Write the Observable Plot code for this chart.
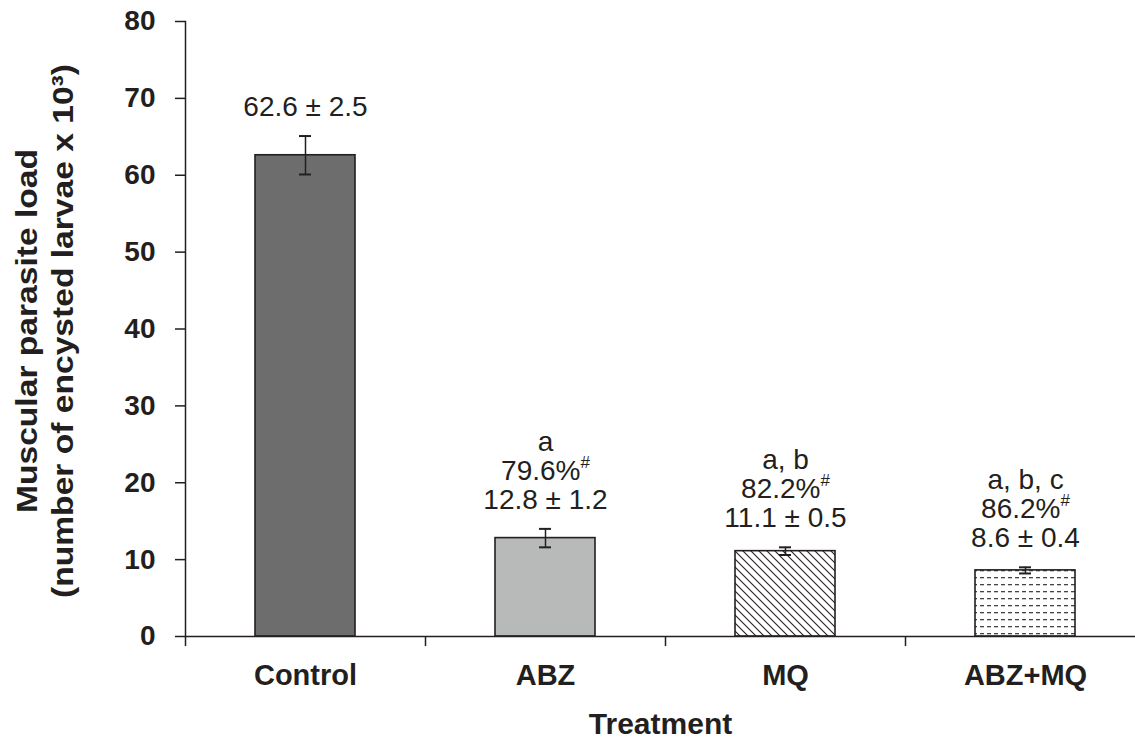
<!DOCTYPE html>
<html><head><meta charset="utf-8">
<script src="https://cdn.jsdelivr.net/npm/d3@7"></script>
<script src="https://cdn.jsdelivr.net/npm/@observablehq/plot@0.6"></script>
<style>body{margin:0;background:#fff;} svg{display:block;font-family:"Liberation Sans",Arial,sans-serif;}</style>
</head><body><div id="chart"></div>
<script>
const categories = ["Control", "ABZ", "MQ", "ABZ+MQ"];
const means = [62.6, 12.8, 11.1, 8.6];
const errors = [2.5, 1.2, 0.5, 0.4];
const letters = ["", "a", "a, b", "a, b, c"];
const reductions = ["", "79.6%#", "82.2%#", "86.2%#"];
const yTicks = [0, 10, 20, 30, 40, 50, 60, 70, 80];
const yTitle = "Muscular parasite load\n(number of encysted larvae x 10³)";
const xTitle = "Treatment";

const data = categories.map((c, i) => ({
  cat: c, mean: means[i], err: errors[i],
  label: [letters[i], reductions[i], `${means[i].toFixed(1)} ± ${errors[i].toFixed(1)}`].filter(s => s).join("\n")
}));

const ink = "#231f20";
const W = 1135, H = 742, ML = 185, MR = -10, MT = 21, MB = 106;
const half = (W - MR - ML) / categories.length / 2;

const chart = Plot.plot({
  width: W, height: H,
  marginLeft: ML, marginRight: MR, marginTop: MT, marginBottom: MB,
  style: {fontFamily: "Liberation Sans, Arial, sans-serif", color: ink},
  x: {domain: categories, padding: 0, axis: null},
  y: {domain: [0, 80], axis: null},
  color: {domain: categories, range: ["#6d6d6d", "#b8bab9", "url(#diag)", "url(#dash)"]},
  marks: [
    Plot.barY(data, {x: "cat", y: "mean", fill: "cat", stroke: ink, strokeWidth: 1.6, insetLeft: 70, insetRight: 70}),
    Plot.ruleX(data, {x: "cat", y1: d => d.mean - d.err, y2: d => d.mean + d.err, stroke: ink, strokeWidth: 1.5}),
    Plot.tickY(data, {x: "cat", y: d => d.mean - d.err, stroke: ink, strokeWidth: 2, insetLeft: half - 6, insetRight: half - 6}),
    Plot.tickY(data, {x: "cat", y: d => d.mean + d.err, stroke: ink, strokeWidth: 2, insetLeft: half - 6, insetRight: half - 6}),
    Plot.text(data, {x: "cat", y: d => d.mean + d.err, text: "label", lineAnchor: "bottom", dy: -20, fontSize: 28, lineHeight: 1.04, fill: ink}),
    Plot.ruleY([0], {stroke: ink, strokeWidth: 1.5}),
    Plot.frame({anchor: "left", stroke: ink, strokeWidth: 1.5}),
    Plot.ruleX(categories, {x: d => d, dx: -half, y1: 0, y2: 0, insetBottom: -10, stroke: ink, strokeWidth: 1.5}),
    Plot.axisY({ticks: yTicks, tickSize: 10, tickPadding: 20, fontSize: 28, fontWeight: "bold", tickFormat: d => d, stroke: ink, strokeWidth: 1.5, label: null}),
    Plot.axisX({tickSize: 0, tickPadding: 28, fontSize: 29, fontWeight: "bold", label: null}),
    Plot.text([yTitle], {frameAnchor: "left", textAnchor: "middle", rotate: -90, dx: -142, dy: 2, fontSize: 30, fontWeight: "bold", lineHeight: 1.2, fill: ink, className: "ytitle"}),
    Plot.text([xTitle], {frameAnchor: "bottom", textAnchor: "middle", dx: -5, dy: 97, fontSize: 30, fontWeight: "bold", fill: ink})
  ]
});

// patterns
const ns = "http://www.w3.org/2000/svg";
const defs = document.createElementNS(ns, "defs");
defs.innerHTML = `
<pattern id="diag" patternUnits="userSpaceOnUse" width="8" height="8">
  <rect width="8" height="8" fill="#fff"/>
  <path d="M-2,-2 L10,10 M-2,6 L2,10 M6,-2 L10,2" stroke="${ink}" stroke-width="1.1"/>
</pattern>
<pattern id="dash" patternUnits="userSpaceOnUse" width="7" height="7">
  <rect width="7" height="7" fill="#fff"/>
  <rect x="0" y="3" width="4" height="1.3" fill="#444"/>
</pattern>`;
chart.insertBefore(defs, chart.firstChild);

// the reference's axis title is stretched along its length
chart.querySelectorAll("g.ytitle text").forEach(t => {
  t.setAttribute("transform", (t.getAttribute("transform") || "") + " scale(1.12,1)");
});

// superscript '#'
chart.querySelectorAll("text tspan, text").forEach(t => {
  if (t.children.length === 0 && t.textContent.includes("%#")) {
    const base = t.textContent.replace("#", "");
    t.textContent = base;
    const sup = document.createElementNS(ns, "tspan");
    sup.setAttribute("font-size", "17");
    sup.setAttribute("baseline-shift", "70%");
    sup.textContent = "#";
    t.appendChild(sup);
  }
});

document.getElementById("chart").appendChild(chart);
</script></body></html>
